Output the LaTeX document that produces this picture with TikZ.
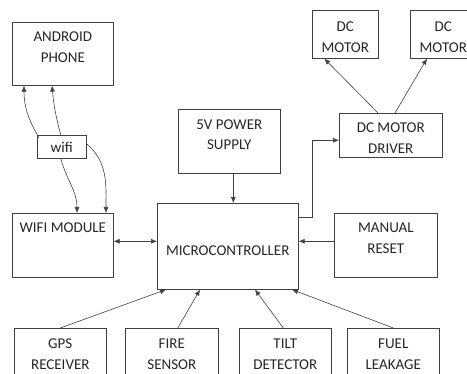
\documentclass[tikz,border=0pt]{standalone}
\usepackage{fontspec}
\setmainfont{Carlito}
\usetikzlibrary{arrows.meta}

\begin{document}
\begin{tikzpicture}[
  x=1pt, y=-1pt,
  font=\fontsize{15}{20.5}\selectfont, text=black!85,
  box/.style={draw=black!75, line width=0.6pt, anchor=north west, align=center,
              inner xsep=0pt, inner ysep=0pt},
  arr/.style={-{Latex[length=6pt,width=5pt]}, draw=black!75, line width=0.6pt},
  barr/.style={{Latex[length=6pt,width=5pt]}-{Latex[length=6pt,width=5pt]}, draw=black!75, line width=0.6pt}
]
\useasboundingbox (0,0) rectangle (467,374);
% top row
\node[box, minimum width=101pt, text height=40pt, text depth=23pt] (phone) at (12,22) {ANDROID\\PHONE};
\node[box, minimum width=49pt, text height=17.5pt, text depth=5.5pt] (wifi) at (37,135) {wifi};
\node[box, minimum width=102pt, text height=40.5pt, text depth=23.5pt] (power) at (178,109) {5V POWER\\SUPPLY};
\node[box, minimum width=66pt, text height=42pt, text depth=6pt] (motora) at (312,10) {DC\\MOTOR};
\node[box, minimum width=66pt, text height=42pt, text depth=6pt] (motorb) at (410,10) {DC\\MOTOR};
\node[box, minimum width=103pt, text height=40pt, text depth=4pt] (driver) at (339,113) {DC MOTOR\\DRIVER};
% middle row
\node[box, minimum width=101pt, text height=19.5pt, text depth=44.5pt] (wifimod) at (12,213) {WIFI MODULE};
\node[box, minimum width=141pt, text height=52pt, text depth=34pt] (micro) at (157,203) {MICROCONTROLLER};
\node[box, minimum width=103pt, text height=40pt, text depth=24pt] (reset) at (334,213) {MANUAL\\RESET};
% inputs
\node[box, minimum width=92pt, text height=41pt, text depth=23pt] (gps) at (14,328) {GPS\\RECEIVER};
\node[box, minimum width=93pt, text height=41pt, text depth=23pt] (fire) at (125,328) {FIRE\\SENSOR};
\node[box, minimum width=92pt, text height=41pt, text depth=23pt] (tilt) at (239,328) {TILT\\DETECTOR};
\node[box, minimum width=92pt, text height=41pt, text depth=23pt] (fuel) at (347,328) {FUEL\\LEAKAGE};

% wireless link
\draw[arr] ([shift={(2pt,-3pt)}]wifi.north west) to[out=120, in=-90] ([xshift=12pt]phone.south west);
\draw[arr] ([xshift=-1pt]wifi.north) to[out=105, in=-85] ([xshift=40pt]phone.south west);
\draw[arr] ([xshift=-1pt]wifi.south) to[out=-75, in=90] ([xshift=65pt]wifimod.north west);
\draw[arr] ([yshift=3pt]wifi.east) to[out=-40, in=90] ([xshift=94pt]wifimod.north west);

\draw[barr] ([yshift=4pt]wifimod.east) -- ([yshift=4pt]wifimod.east -| micro.west);
\draw[arr] ([yshift=4pt]reset.west) -- ([yshift=4pt]reset.west -| micro.east);
\draw[arr] ([xshift=4pt]power.south) -- ([xshift=4pt]power.south |- micro.north);
\draw[arr] ([yshift=-14pt]micro.north east) -- ++(14,0) |- ([yshift=-5pt]driver.west);
\draw[arr] ([xshift=39pt]driver.north west) -- ([xshift=-21pt]motora.south);
\draw[arr] ([xshift=56pt]driver.north west) -- ([xshift=17pt]motorb.south west);

\draw[arr] (gps.north) -- ([xshift=9pt]micro.south west);
\draw[arr] ([xshift=6pt]fire.north) -- ([xshift=43pt]micro.south west);
\draw[arr] ([xshift=-2pt]tilt.north) -- ([xshift=98pt]micro.south west);
\draw[arr] (fuel.north) -- ([xshift=135pt]micro.south west);
\end{tikzpicture}
\end{document}
